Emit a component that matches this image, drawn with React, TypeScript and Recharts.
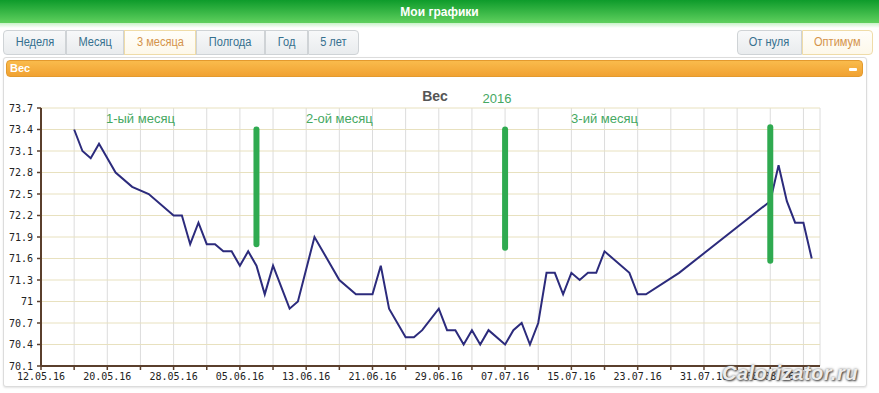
import React from "react";
import {
  LineChart,
  Line,
  XAxis,
  YAxis,
  CartesianGrid,
  ReferenceLine,
  ReferenceDot,
} from "recharts";

// ---- data (dates are dd.mm of 2016) ----
const dates = [
  "16.05", "17.05", "18.05", "19.05", "21.05", "23.05", "25.05", "28.05", "29.05", "30.05",
  "31.05", "01.06", "02.06", "03.06", "04.06", "05.06", "06.06", "07.06", "08.06", "09.06",
  "11.06", "12.06", "14.06", "17.06", "19.06", "21.06", "22.06", "23.06", "25.06", "26.06",
  "27.06", "29.06", "30.06", "01.07", "02.07", "03.07", "04.07", "05.07", "07.07", "08.07",
  "09.07", "10.07", "11.07", "12.07", "13.07", "14.07", "15.07", "16.07", "17.07", "18.07",
  "19.07", "22.07", "23.07", "24.07", "28.07", "08.08", "09.08", "10.08", "11.08", "12.08",
  "13.08",
];
const weights = [
  73.4, 73.1, 73.0, 73.2, 72.8, 72.6, 72.5, 72.2, 72.2, 71.8,
  72.1, 71.8, 71.8, 71.7, 71.7, 71.5, 71.7, 71.5, 71.1, 71.5,
  70.9, 71.0, 71.9, 71.3, 71.1, 71.1, 71.5, 70.9, 70.5, 70.5,
  70.6, 70.9, 70.6, 70.6, 70.4, 70.6, 70.4, 70.6, 70.4, 70.6,
  70.7, 70.4, 70.7, 71.4, 71.4, 71.1, 71.4, 71.3, 71.4, 71.4,
  71.7, 71.4, 71.1, 71.1, 71.4, 72.4, 72.9, 72.4, 72.1, 72.1,
  71.6,
];
const xTickLabels = [
  "12.05.16", "20.05.16", "28.05.16", "05.06.16", "13.06.16", "21.06.16",
  "29.06.16", "07.07.16", "15.07.16", "23.07.16", "31.07.16", "08.08.16",
];
const yTickLabels = [
  "70.1", "70.4", "70.7", "71", "71.3", "71.6", "71.9", "72.2", "72.5", "72.8", "73.1", "73.4", "73.7",
];
const markerDates = ["07.06", "07.07", "08.08"];
const markerTops = [73.4, 73.4, 73.43];
const markerBottoms = [71.8, 71.75, 71.57];
const noteLabels = ["1-ый месяц", "2-ой месяц", "3-ий месяц"];
const noteDates = ["24.05", "17.06", "19.07"];
const noteValue = 73.56;
const buttonsLeft = ["Неделя", "Месяц", "3 месяца", "Полгода", "Год", "5 лет"];
const buttonsRight = ["От нуля", "Оптимум"];
const activeButtons = ["3 месяца", "Оптимум"];

// ---- helpers ----
const monthStart: Record<number, number> = { 5: 0, 6: 31, 7: 61, 8: 92 };
const dayOf = (s: string) => {
  const [d, m] = s.split(".").map(Number);
  return monthStart[m] + d - 12;
};
const data = dates.map((d, i) => ({ day: dayOf(d), w: weights[i] }));
const labelDays = xTickLabels.map((l) => dayOf(l.slice(0, 5)));
const xTicks = labelDays.flatMap((d) => [d, d + 4]);
const yTicks = yTickLabels.map(Number);

const BROWN = "#5a3f2c";
const GREEN = "#2faa50";
const NOTE = "#45a862";

const btnWidthsLeft = [63, 58, 72, 69, 43, 51];
const btnWidthsRight = [65, 71];

function Buttons({ labels, widths, left }: { labels: string[]; widths: number[]; left: number }) {
  let x = left;
  return (
    <>
      {labels.map((l, i) => {
        const active = activeButtons.includes(l);
        const el = (
          <div
            key={l}
            style={{
              position: "absolute",
              left: x,
              top: 30,
              width: widths[i],
              height: 25,
              boxSizing: "border-box",
              border: active ? "1px solid #efdca8" : "1px solid #cfd3d6",
              background: active ? "linear-gradient(#fffefa,#fdf8ea)" : "linear-gradient(#f7f8f9,#e9ecee)",
              color: active ? "#d4934a" : "#35708f",
              fontFamily: "'Liberation Sans Narrow', 'Arial Narrow', 'Liberation Sans', Arial, sans-serif",
              fontSize: 12,
              lineHeight: "23px",
              textAlign: "center",
              borderRadius: i === 0 ? "4px 0 0 4px" : i === labels.length - 1 ? "0 4px 4px 0" : 0,
            }}
          >
            <span style={{ display: "inline-block", transform: "scaleX(0.92)" }}>{l}</span>
          </div>
        );
        x += widths[i];
        return el;
      })}
    </>
  );
}

export default function App() {
  return (
    <div style={{ position: "relative", width: 879, height: 393, background: "#fff", overflow: "hidden" }}>
      <style>{`body{margin:0;}`}</style>
      {/* header */}
      <div
        style={{
          position: "absolute",
          left: 0,
          top: 0,
          width: 879,
          height: 23,
          background: "linear-gradient(#0e9b2b,#5fd05e)",
          color: "#fff",
          fontFamily: "'Liberation Sans', Arial, sans-serif",
          fontWeight: "bold",
          fontSize: 12,
          lineHeight: "24px",
          textAlign: "center",
        }}
      >
        Мои графики
      </div>
      <div style={{ position: "absolute", left: 0, top: 23, width: 879, height: 5, background: "linear-gradient(#c9f2c9,#ffffff)" }} />

      <Buttons labels={buttonsLeft} widths={btnWidthsLeft} left={3} />
      <Buttons labels={buttonsRight} widths={btnWidthsRight} left={737} />

      {/* panel */}
      <div
        style={{
          position: "absolute",
          left: 3,
          top: 57,
          width: 864,
          height: 330,
          boxSizing: "border-box",
          border: "1px solid #dcdcdc",
          borderRadius: 3,
          background: "#fff",
          boxShadow: "0 1px 2px #e4e4e4",
        }}
      />
      <div
        style={{
          position: "absolute",
          left: 6,
          top: 60,
          width: 857,
          height: 17,
          boxSizing: "border-box",
          border: "1px solid #e39a2e",
          borderRadius: 4,
          background: "linear-gradient(#f9bb4c,#f1a232)",
          color: "#fff",
          fontFamily: "'Liberation Sans', Arial, sans-serif",
          fontWeight: "bold",
          fontSize: 11,
          lineHeight: "15px",
          paddingLeft: 3,
        }}
      >
        Вес
        <div style={{ position: "absolute", right: 5, top: 7, width: 8, height: 3, background: "#fff", borderRadius: 1 }} />
      </div>

      {/* title */}
      <div
        style={{
          position: "absolute",
          left: 385,
          top: 88,
          width: 100,
          textAlign: "center",
          fontFamily: "'Liberation Sans', Arial, sans-serif",
          fontWeight: "bold",
          fontSize: 14,
          color: "#555",
        }}
      >
        Вес
      </div>
      <div
        style={{
          position: "absolute",
          left: 447,
          top: 91,
          width: 100,
          textAlign: "center",
          fontFamily: "'Liberation Sans', Arial, sans-serif",
          fontSize: 13,
          color: NOTE,
        }}
      >
        2016
      </div>

      <div style={{ position: "absolute", left: 0, top: 80 }}>
        <LineChart width={879} height={310} data={data} margin={{ top: 28, right: 59, left: 0, bottom: 4 }}>
          <CartesianGrid vertical={true} horizontal={false} stroke="#dcdcdc" strokeWidth={1} />
          <CartesianGrid vertical={false} horizontal={true} stroke="#e8e1bf" strokeWidth={1} />
          <XAxis
            type="number"
            dataKey="day"
            domain={[0, 94]}
            ticks={xTicks}
            interval={0}
            allowDataOverflow
            height={20}
            tickSize={4}
            tickMargin={3}
            axisLine={{ stroke: BROWN, strokeWidth: 2 }}
            tickLine={{ stroke: BROWN, strokeWidth: 1.5 }}
            tick={{ fill: "#222", fontSize: 10, fontFamily: "'DejaVu Sans Mono', monospace" }}
            tickFormatter={(v: number) => {
              const i = labelDays.indexOf(v);
              return i >= 0 ? xTickLabels[i] : "";
            }}
          />
          <YAxis
            type="number"
            domain={[70.1, 73.7]}
            ticks={yTicks}
            interval={0}
            allowDataOverflow
            width={41}
            tickSize={4}
            tickMargin={4}
            axisLine={{ stroke: BROWN, strokeWidth: 2 }}
            tickLine={{ stroke: BROWN, strokeWidth: 1.5 }}
            tick={{ fill: "#222", fontSize: 10, fontFamily: "'DejaVu Sans Mono', monospace" }}
            tickFormatter={(v: number) => {
              const i = yTicks.indexOf(v);
              return i >= 0 ? yTickLabels[i] : String(v);
            }}
          />
          {noteLabels.map((t, i) => (
            <ReferenceDot
              key={t}
              x={dayOf(noteDates[i])}
              y={noteValue}
              r={0}
              fill="none"
              stroke="none"
              ifOverflow="visible"
              label={{
                value: t,
                position: "center",
                fill: NOTE,
                fontSize: 13,
                fontFamily: "'Liberation Sans', Arial, sans-serif",
              }}
            />
          ))}
          <Line
            type="linear"
            dataKey="w"
            stroke="#2c2b7c"
            strokeWidth={2}
            dot={false}
            activeDot={false}
            isAnimationActive={false}
          />
          {markerDates.map((d, i) => (
            <ReferenceLine
              key={d}
              segment={[
                { x: dayOf(d), y: markerTops[i] },
                { x: dayOf(d), y: markerBottoms[i] },
              ]}
              stroke={GREEN}
              strokeWidth={6}
              strokeLinecap="round"
              ifOverflow="visible"
            />
          ))}
        </LineChart>
      </div>

      {/* watermark */}
      <div
        style={{
          position: "absolute",
          left: 722,
          top: 362,
          fontFamily: "'Liberation Sans', Arial, sans-serif",
          fontWeight: "bold",
          fontStyle: "italic",
          fontSize: 20,
          color: "#ececec",
          textShadow: "1px 1px 2px #444, 0 0 3px #777",
          letterSpacing: 0.5,
        }}
      >
        Calorizator.ru
      </div>
    </div>
  );
}
